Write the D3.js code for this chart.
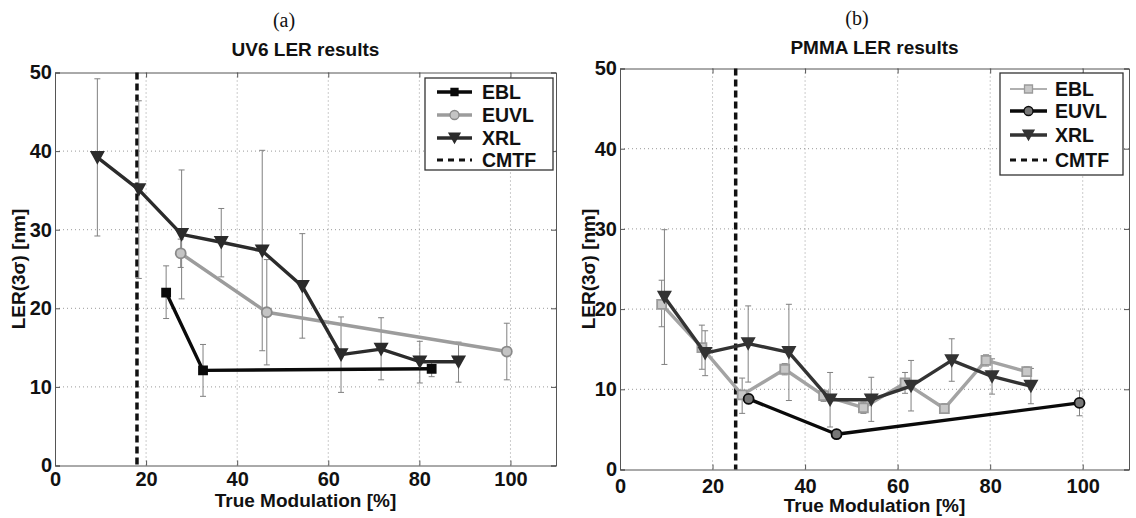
<!DOCTYPE html>
<html>
<head>
<meta charset="utf-8">
<script src="https://cdn.jsdelivr.net/npm/d3@7"></script>
<style>
  body { margin: 0; background: #fff; }
  text { font-family: "Liberation Sans", Arial, sans-serif; font-weight: bold; fill: #111; }
</style>
</head>
<body>
<div id="chart"></div>
<script>
// axis ticks
const xTicks = [0, 20, 40, 60, 80, 100];
const yTicks = [0, 10, 20, 30, 40, 50];

// (a) UV6
const uv6EblX = [24.4, 32.5, 82.7];
const uv6EblY = [22.0, 12.1, 12.3];
const uv6EblLo = [18.7, 8.8, 11.3];
const uv6EblHi = [25.4, 15.4, 13.3];

const uv6EuvlX = [27.6, 46.5, 99.2];
const uv6EuvlY = [27.0, 19.5, 14.5];
const uv6EuvlLo = [25.2, 12.8, 10.9];
const uv6EuvlHi = [28.8, 26.2, 18.1];

const uv6XrlX = [9.3, 18.4, 27.8, 36.5, 45.5, 54.3, 62.8, 71.6, 80.1, 88.6];
const uv6XrlY = [39.2, 35.1, 29.4, 28.4, 27.3, 22.8, 14.1, 14.8, 13.2, 13.2];
const uv6XrlLo = [29.2, 23.8, 21.2, 24.0, 14.6, 16.2, 9.3, 10.9, 10.5, 10.6];
const uv6XrlHi = [49.2, 46.4, 37.6, 32.7, 40.1, 29.5, 18.9, 18.8, 15.8, 15.7];

const uv6Cmtf = 18.0;

// (b) PMMA
const pmmaEblX = [9.0, 17.7, 26.4, 35.6, 44.0, 52.6, 61.6, 70.1, 79.1, 87.9];
const pmmaEblY = [20.6, 15.2, 9.3, 12.5, 9.2, 7.7, 10.8, 7.6, 13.6, 12.2];
const pmmaEblLo = [17.8, 12.5, 7.0, 11.8, 8.5, 7.0, 9.5, 7.0, 12.9, 11.6];
const pmmaEblHi = [23.6, 18.0, 11.4, 13.2, 9.9, 8.4, 12.1, 8.2, 14.3, 12.8];

const pmmaEuvlX = [27.8, 46.8, 99.3];
const pmmaEuvlY = [8.8, 4.4, 8.3];
const pmmaEuvlLo = [8.2, 3.9, 6.7];
const pmmaEuvlHi = [9.4, 4.9, 9.8];

const pmmaXrlX = [9.6, 18.4, 27.7, 36.5, 45.4, 54.3, 62.9, 71.7, 80.4, 88.8];
const pmmaXrlY = [21.5, 14.5, 15.7, 14.6, 8.7, 8.7, 10.4, 13.6, 11.6, 10.4];
const pmmaXrlLo = [13.1, 11.7, 10.9, 8.6, 5.3, 6.0, 7.3, 11.0, 9.4, 8.2];
const pmmaXrlHi = [29.9, 17.3, 20.4, 20.6, 12.1, 11.5, 13.6, 16.3, 13.8, 12.6];

const pmmaCmtf = 25.0;

const width = 1136;
const height = 518;

const svg = d3.select('#chart')
  .append('svg')
  .attr('width', width)
  .attr('height', height);

function zip(xs, ys, lo, hi) {
  return xs.map((d, i) => ({ x: d, y: ys[i], lo: lo[i], hi: hi[i] }));
}

function marker(shape, size) {
  if (shape === 'square') return d3.symbol(d3.symbolSquare, size * size)();
  if (shape === 'circle') return d3.symbol(d3.symbolCircle, Math.PI * size * size / 4)();
  // triangle pointing down
  const h = size * 0.9;
  return `M${-size / 2},${-h / 2}L${size / 2},${-h / 2}L0,${h / 2}Z`;
}

function drawPanel(p) {
  const x = d3.scaleLinear().domain([0, 110]).range([p.left, p.right]);
  const y = d3.scaleLinear().domain([0, 50]).range([p.bottom, p.top]);
  const g = svg.append('g');

  // grid
  g.append('g').selectAll('line')
    .data(xTicks.filter(d => d > 0))
    .join('line')
    .attr('x1', d => x(d)).attr('x2', d => x(d))
    .attr('y1', p.top).attr('y2', p.bottom)
    .attr('stroke', '#999').attr('stroke-dasharray', '1,3');
  g.append('g').selectAll('line')
    .data(yTicks.filter(d => d > 0 && d < 50))
    .join('line')
    .attr('x1', p.left).attr('x2', p.right)
    .attr('y1', d => y(d)).attr('y2', d => y(d))
    .attr('stroke', '#999').attr('stroke-dasharray', '1,3');

  // axes, ticks inside like matlab
  const ax = g.append('g').attr('transform', `translate(0,${p.bottom})`)
    .call(d3.axisBottom(x).tickValues(xTicks).tickSize(-5).tickPadding(p.xPad));
  const ay = g.append('g').attr('transform', `translate(${p.left},0)`)
    .call(d3.axisLeft(y).tickValues(yTicks).tickSize(-5).tickPadding(3));
  g.append('g').attr('transform', `translate(0,${p.top})`)
    .call(d3.axisTop(x).tickValues(xTicks).tickSize(-5).tickFormat(''));
  g.append('g').attr('transform', `translate(${p.right},0)`)
    .call(d3.axisRight(y).tickValues(yTicks).tickSize(-5).tickFormat(''));
  g.selectAll('.domain, .tick line').attr('stroke', '#555');
  ax.selectAll('text').style('font-size', '20px');
  ay.selectAll('text').style('font-size', '20px');

  // cmtf line
  g.append('line')
    .attr('x1', x(p.cmtf)).attr('x2', x(p.cmtf))
    .attr('y1', p.top).attr('y2', p.bottom)
    .attr('stroke', '#111').attr('stroke-width', 3.5)
    .attr('stroke-dasharray', '7,4');

  const line = d3.line().x(d => x(d.x)).y(d => y(d.y));

  p.series.forEach(s => {
    const sg = g.append('g');
    // error bars
    const eb = sg.append('g').selectAll('g').data(s.data).join('g')
      .attr('stroke', '#808080').attr('stroke-width', 1);
    eb.append('line').attr('x1', d => x(d.x)).attr('x2', d => x(d.x))
      .attr('y1', d => y(d.lo)).attr('y2', d => y(d.hi));
    eb.append('line').attr('x1', d => x(d.x) - 3).attr('x2', d => x(d.x) + 3)
      .attr('y1', d => y(d.lo)).attr('y2', d => y(d.lo));
    eb.append('line').attr('x1', d => x(d.x) - 3).attr('x2', d => x(d.x) + 3)
      .attr('y1', d => y(d.hi)).attr('y2', d => y(d.hi));
  });

  p.series.forEach(s => {
    g.append('path')
      .datum(s.data)
      .attr('d', line)
      .attr('fill', 'none')
      .attr('stroke', s.color)
      .attr('stroke-width', 3.4)
      .attr('stroke-linejoin', 'round');
    g.append('g').selectAll('path').data(s.data).join('path')
      .attr('transform', d => `translate(${x(d.x)},${y(d.y)})`)
      .attr('d', marker(s.shape, s.size))
      .attr('fill', s.fill)
      .attr('stroke', s.markerStroke)
      .attr('stroke-width', 1.8);
  });

  // titles
  svg.append('text')
    .attr('x', p.capX).attr('y', p.capY)
    .attr('text-anchor', 'middle')
    .style('font-family', '"Liberation Serif", serif')
    .style('font-weight', 'normal')
    .style('font-size', '20px')
    .text(p.caption);
  svg.append('text')
    .attr('x', (p.left + p.right) / 2).attr('y', p.titleY)
    .attr('text-anchor', 'middle')
    .style('font-size', '19px')
    .text(p.title);
  svg.append('text')
    .attr('x', (p.left + p.right) / 2).attr('y', p.xLabY)
    .attr('text-anchor', 'middle')
    .style('font-size', '19px')
    .text('True Modulation [%]');
  svg.append('text')
    .attr('transform', `translate(${p.yLabX},${(p.top + p.bottom) / 2}) rotate(-90)`)
    .attr('dy', '0.35em')
    .attr('text-anchor', 'middle')
    .style('font-size', '19px')
    .text('LER(3σ) [nm]');

  // legend
  const lg = g.append('g').attr('transform', `translate(${p.leg.x},${p.leg.y})`);
  lg.append('rect')
    .attr('width', p.leg.w).attr('height', p.leg.h)
    .attr('fill', '#fff').attr('stroke', '#333').attr('stroke-width', 1.3);
  const items = p.series.concat([{ name: 'CMTF', dashed: true }]);
  items.forEach((s, i) => {
    const row = lg.append('g').attr('transform', `translate(0,${p.leg.rows[i]})`);
    row.append('line')
      .attr('x1', p.leg.l0).attr('x2', p.leg.l1)
      .attr('stroke', s.dashed ? '#111' : s.legColor || s.color)
      .attr('stroke-width', s.dashed ? 3 : (s.legWidth || 3.4))
      .attr('stroke-dasharray', s.dashed ? '6,5' : null);
    if (!s.dashed) {
      row.append('path')
        .attr('transform', `translate(${(p.leg.l0 + p.leg.l1) / 2},0)`)
        .attr('d', marker(s.shape, s.size - 1))
        .attr('fill', s.fill)
        .attr('stroke', s.markerStroke)
        .attr('stroke-width', 1.3);
    }
    row.append('text')
      .attr('x', p.leg.tx).attr('y', 0).attr('dy', '0.36em')
      .style('font-size', '19.5px')
      .text(s.name);
  });
}

drawPanel({
  left: 55, right: 556, top: 72.5, bottom: 465.5,
  caption: '(a)', capX: 284, capY: 27, title: 'UV6 LER results', titleY: 56,
  xPad: 6, xLabY: 507, yLabX: 18,
  cmtf: uv6Cmtf,
  leg: { x: 425, y: 78, w: 128, h: 92, rows: [14, 37, 60, 82], l0: 12, l1: 47, tx: 57 },
  series: [
    { name: 'EBL', data: zip(uv6EblX, uv6EblY, uv6EblLo, uv6EblHi), color: '#0a0a0a', shape: 'square', size: 8, fill: '#0a0a0a', markerStroke: '#0a0a0a' },
    { name: 'EUVL', data: zip(uv6EuvlX, uv6EuvlY, uv6EuvlLo, uv6EuvlHi), color: '#9c9c9c', shape: 'circle', size: 10, fill: '#c4c4c4', markerStroke: '#8a8a8a' },
    { name: 'XRL', data: zip(uv6XrlX, uv6XrlY, uv6XrlLo, uv6XrlHi), color: '#2b2b2b', shape: 'tri', size: 12, fill: '#2b2b2b', markerStroke: '#2b2b2b' }
  ]
});

drawPanel({
  left: 620, right: 1129, top: 68.5, bottom: 469.5,
  caption: '(b)', capX: 857, capY: 25, title: 'PMMA LER results', titleY: 54,
  xPad: 9, xLabY: 512, yLabX: 588,
  cmtf: pmmaCmtf,
  leg: { x: 1000, y: 73, w: 123, h: 102, rows: [16, 38, 62, 87], l0: 10, l1: 47, tx: 55 },
  series: [
    { name: 'EBL', data: zip(pmmaEblX, pmmaEblY, pmmaEblLo, pmmaEblHi), color: '#a3a3a3', shape: 'square', size: 9, fill: '#c8c8c8', markerStroke: '#9a9a9a', legColor: '#b0b0b0', legWidth: 2 },
    { name: 'EUVL', data: zip(pmmaEuvlX, pmmaEuvlY, pmmaEuvlLo, pmmaEuvlHi), color: '#0a0a0a', shape: 'circle', size: 10, fill: '#777', markerStroke: '#0a0a0a' },
    { name: 'XRL', data: zip(pmmaXrlX, pmmaXrlY, pmmaXrlLo, pmmaXrlHi), color: '#333', shape: 'tri', size: 12, fill: '#333', markerStroke: '#333' }
  ]
});
</script>
</body>
</html>
